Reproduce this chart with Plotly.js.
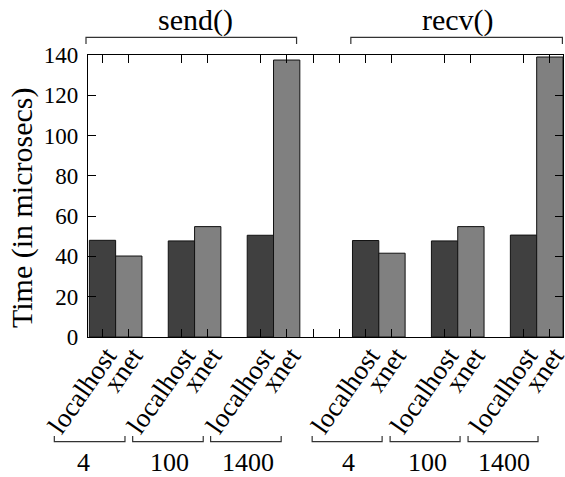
<!DOCTYPE html>
<html>
<head>
<meta charset="utf-8">
<script src="https://cdn.plot.ly/plotly-3.0.1.min.js"></script>
<style>html,body{margin:0;padding:0;background:#fff;}#chart{width:565px;height:477px;}</style>
</head>
<body>
<div id="chart"></div>
<script>
// ---- data ----
const functions = ['send()', 'recv()'];
const sizes = ['4', '100', '1400'];
const seriesNames = ['localhost', 'xnet'];
const sendLocalhost = [48.0, 47.7, 50.5];
const sendXnet = [40.2, 54.8, 137.5];
const recvLocalhost = [47.9, 47.7, 50.6];
const recvXnet = [41.6, 54.8, 139.0];
const sendXnetBase = [0, 0, -1.3];
const recvXnetBase = [0, 0, 0];
const yTicks = [0, 20, 40, 60, 80, 100, 120, 140];
const yTitle = 'Time (in microsecs)';

// ---- slot layout (gnuplot-style histogram) ----
const slotsPerGroup = 3;          // 2 bars + 1 gap
const funcOffset = 10;            // recv() starts 10 slots after send()
const gapTicks = [8, 9];          // empty entries between the two histograms

function pos(f, g, s) { return f * funcOffset + g * slotsPerGroup + s; }

const lhX = [], xnX = [], lhY = [], xnY = [], xnBase = [];
const allLh = [sendLocalhost, recvLocalhost];
const allXn = [sendXnet, recvXnet];
const allBase = [sendXnetBase, recvXnetBase];
for (let f = 0; f < functions.length; f++) {
  for (let g = 0; g < sizes.length; g++) {
    lhX.push(pos(f, g, 0)); lhY.push(allLh[f][g]);
    xnX.push(pos(f, g, 1)); xnY.push(allXn[f][g] - allBase[f][g]); xnBase.push(allBase[f][g]);
  }
}
const tickVals = [], tickText = [];
for (let f = 0; f < functions.length; f++) {
  for (let g = 0; g < sizes.length; g++) {
    for (let s = 0; s < seriesNames.length; s++) {
      tickVals.push(pos(f, g, s)); tickText.push(seriesNames[s]);
    }
  }
  if (f === 0) gapTicks.forEach(t => { tickVals.push(t); tickText.push(''); });
}

const FONT = 'Liberation Serif';

const traces = [
  {type: 'bar', x: lhX, y: lhY, width: 1, name: seriesNames[0],
   marker: {color: '#404040', line: {color: '#111', width: 1}}, cliponaxis: false, hoverinfo: 'none'},
  {type: 'bar', x: xnX, y: xnY, base: xnBase, width: 1, name: seriesNames[1],
   marker: {color: '#808080', line: {color: '#111', width: 1}}, cliponaxis: false, hoverinfo: 'none'}
];

// pixel -> paper helpers (plot area: x 88..563.3, y 55..337)
const L = 88, W = 475.3, T = 55, H = 282;
const px = v => (v - L) / W;
const py = v => (T + H - v) / H;

const shapes = [];
const annotations = [];
function bracketDown(x0, x1, yLine, yEnd) {
  shapes.push({type: 'path', xref: 'paper', yref: 'paper',
    path: `M ${px(x0)} ${py(yEnd)} L ${px(x0)} ${py(yLine)} L ${px(x1)} ${py(yLine)} L ${px(x1)} ${py(yEnd)}`,
    line: {color: '#333', width: 1.2}});
}
// top brackets with function names
const topBr = [[86, 296.7, 195.5], [351, 562.7, 458.3]];
topBr.forEach((b, i) => {
  bracketDown(b[0], b[1], 37.3, 44);
  annotations.push({xref: 'paper', yref: 'paper', x: px(b[2]), y: py(20.5), text: functions[i],
    showarrow: false, xanchor: 'center', yanchor: 'middle', font: {family: FONT, size: 30, color: '#000'}});
});
// bottom brackets with sizes
const botBr = [[54.3, 125, 83.7], [132.7, 203.3, 170], [210.7, 281.3, 248],
               [312.3, 382.3, 348.8], [390.3, 460.3, 427.5], [468.3, 538.3, 504]];
botBr.forEach((b, i) => {
  bracketDown(b[0], b[1], 441.7, 436);
  annotations.push({xref: 'paper', yref: 'paper', x: px(b[2]), y: py(463), text: sizes[i % sizes.length],
    showarrow: false, xanchor: 'center', yanchor: 'middle', font: {family: FONT, size: 26, color: '#000'}});
});
// y-axis title (placed as in the reference, slightly below plot centre)
annotations.push({xref: 'paper', yref: 'paper', x: px(22), y: py(208), text: yTitle, textangle: -90,
  showarrow: false, xanchor: 'center', yanchor: 'middle', font: {family: FONT, size: 30, color: '#000'}});

const layout = {
  width: 565, height: 477,
  margin: {l: L, r: 565 - L - W, t: T, b: 477 - T - H, pad: 0},
  paper_bgcolor: '#fff', plot_bgcolor: '#fff',
  showlegend: false,
  barmode: 'overlay',
  font: {family: FONT, size: 24, color: '#000'},
  xaxis: {range: [-0.55, 17.5], tickmode: 'array', tickvals: tickVals, ticktext: tickText,
    tickangle: -55, ticks: 'inside', ticklen: 8, tickcolor: '#000', tickwidth: 1,
    ticklabeloverflow: 'allow', ticklabelshift: 4, ticklabelstandoff: -9,
    showline: true, linecolor: '#000', linewidth: 1.2, mirror: 'ticks', showgrid: false, zeroline: false,
    tickfont: {family: FONT, size: 27, color: '#000'}},
  yaxis: {range: [0, 140], tickmode: 'array', tickvals: yTicks,
    ticks: 'inside', ticklen: 8, tickcolor: '#000', tickwidth: 1, ticklabelstandoff: 4,
    showline: true, linecolor: '#000', linewidth: 1.2, mirror: 'ticks', showgrid: false, zeroline: false,
    tickfont: {family: FONT, size: 23, color: '#000'}},
  shapes: shapes,
  annotations: annotations
};

Plotly.newPlot('chart', traces, layout, {staticPlot: true, displayModeBar: false});
</script>
</body>
</html>
